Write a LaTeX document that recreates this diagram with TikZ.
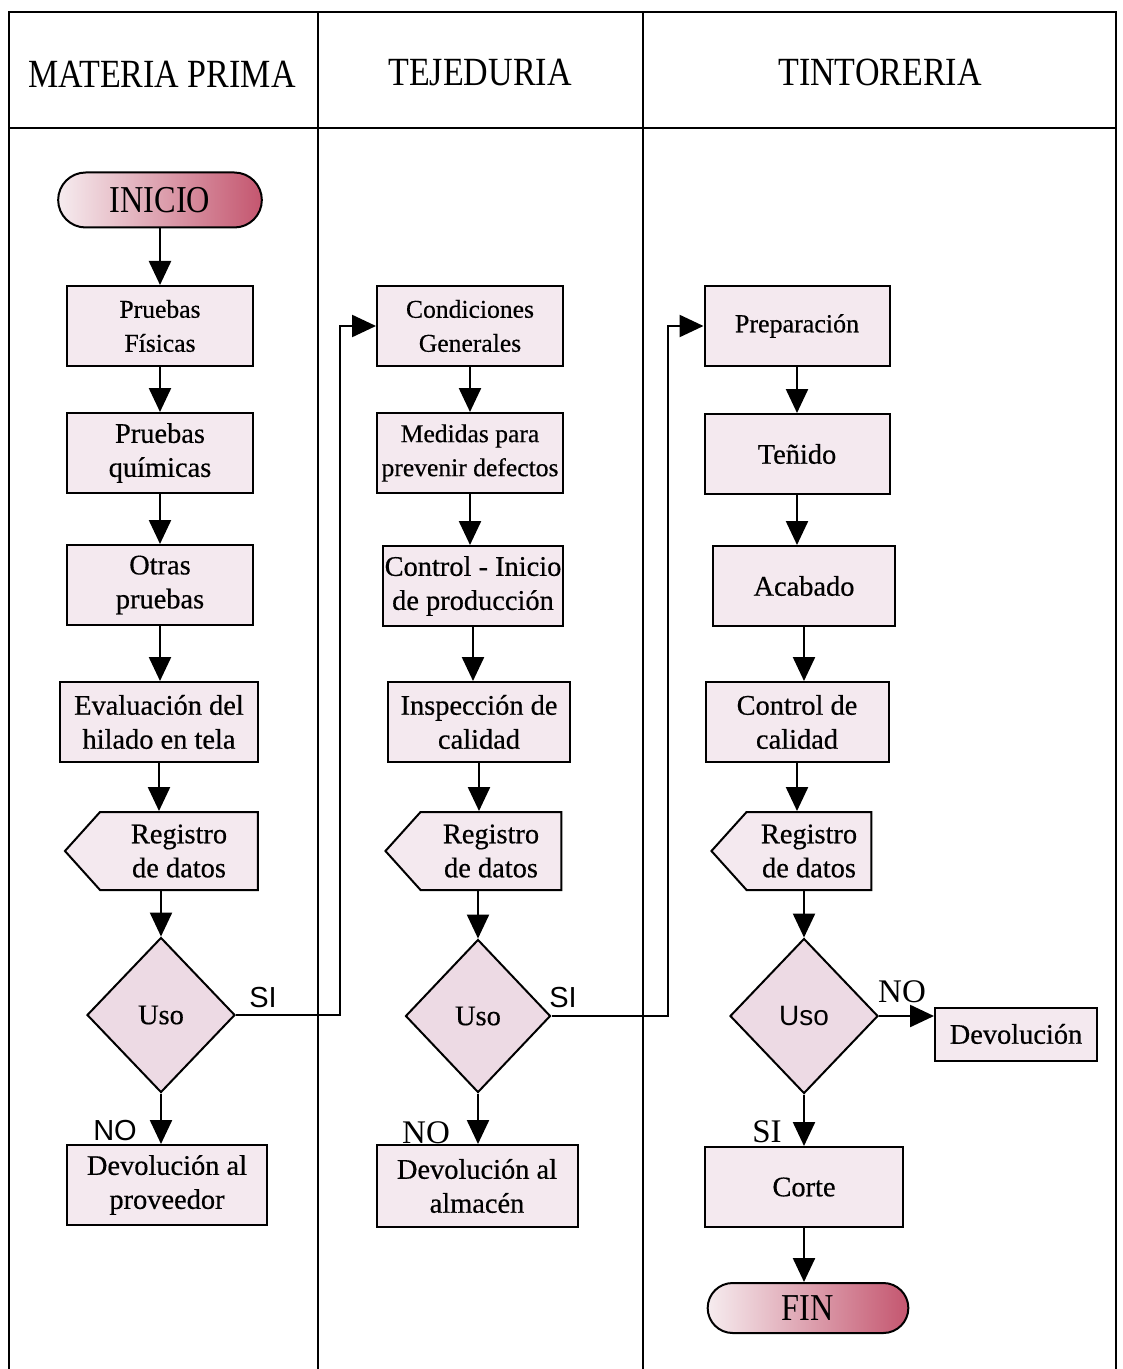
\documentclass[tikz,border=0pt]{standalone}
\usepackage{fontspec}
\setmainfont{Liberation Serif}
\setsansfont{Liberation Sans}
\newfontfamily\headfont[FakeStretch=0.85]{Liberation Serif}
\newfontfamily\boxfont[FakeBold=0.5]{Liberation Serif}
\usetikzlibrary{arrows.meta,positioning,shapes.geometric,shapes.misc,shapes.symbols}
\definecolor{boxfill}{HTML}{F4E9EF}
\definecolor{diafill}{HTML}{EDDAE4}
\definecolor{endleft}{HTML}{F6ECEF}
\definecolor{endright}{HTML}{C4566F}
\newcommand{\BoxFont}[1]{\boxfont\fontsize{#1}{17}\selectfont}

\begin{document}
\begin{tikzpicture}[x=0.5pt,y=-0.5pt,
    line width=1pt,
    lane/.style={line width=1.4pt},
    flow/.style={line width=1.2pt, -{Triangle[length=12pt,width=11pt]}},
    procbox/.style={draw, fill=boxfill, align=center, inner sep=1pt,
      minimum height=40pt, font=\BoxFont{14.2}},
    regbox/.style={draw, fill=boxfill, align=center, shape=signal, signal to=west,
      signal pointer angle=96, minimum height=39pt, font=\BoxFont{14.2}},
    usobox/.style={draw, fill=diafill, shape=diamond, minimum width=74pt,
      minimum height=77.5pt, inner sep=0pt, font=\BoxFont{14.2}},
    endbox/.style={draw, shape=rounded rectangle, left color=endleft, right color=endright,
      font=\headfont\fontsize{19}{20}\selectfont},
    head/.style={font=\headfont\fontsize{20}{22}\selectfont},
    tag/.style={font=\sffamily\fontsize{14.5}{16}\selectfont},
    tagserif/.style={font=\fontsize{16.5}{18}\selectfont}]
  \useasboundingbox (0,0) rectangle (1123,1369);
  % marco y carriles
  \draw[lane] (9,1369) -- (9,12) -- (1116,12) -- (1116,1369);
  \draw[lane] (9,128) -- (1116,128);
  \foreach \x in {318,643}
    \draw[lane] (\x,12) -- (\x,1369);
  \node[head] (h1) at (162,74) {MATERIA PRIMA};
  \node[head] (h2) at (480,72) {TEJEDURIA};
  \node[head] (h3) at (880,72) {TINTORERIA};

  % materia prima
  \node[endbox, minimum width=108.5pt, minimum height=27.5pt] (ini) at (160,200) {INICIO};
  \node[procbox, minimum width=93pt, font=\BoxFont{12.8}] (pf) at (160,326) {Pruebas\\Físicas};
  \node[procbox, minimum width=93pt] (pq) at (160,453) {Pruebas\\químicas};
  \node[procbox, minimum width=93pt] (op) at (160,585) {Otras\\pruebas};
  \node[procbox, minimum width=99pt] (ev) at (159,722) {Evaluación del\\hilado en tela};
  \node[regbox, minimum width=96.5pt] (rg1) at (179,851) {Registro\\de datos};
  \node[usobox] (uso1) at (161,1015) {Uso};
  \node[procbox, minimum width=100pt] (dp) at (167,1185) {Devolución al\\proveedor};

  % tejeduria
  \node[procbox, minimum width=93pt, font=\BoxFont{12.8}] (cg) at (470,326) {Condiciones\\Generales};
  \node[procbox, minimum width=93pt, font=\BoxFont{12.8}] (mp) at (470,453) {Medidas para\\prevenir defectos};
  \node[procbox, minimum width=90pt] (ci) at (473,586) {Control - Inicio\\de producción};
  \node[procbox, minimum width=91pt] (ic) at (479,722) {Inspección de\\calidad};
  \node[regbox, minimum width=88pt] (rg2) at (491,851) {Registro\\de datos};
  \node[usobox, minimum width=72.5pt, minimum height=76.5pt] (uso2) at (478,1016) {Uso};
  \node[procbox, minimum width=100.5pt, minimum height=41pt] (da) at (477,1186) {Devolución al\\almacén};

  % tintoreria
  \node[procbox, minimum width=92.5pt, font=\BoxFont{13}] (pr) at (797,326) {Preparación};
  \node[procbox, minimum width=92.5pt] (te) at (797,454) {Teñido};
  \node[procbox, minimum width=91pt] (ac) at (804,586) {Acabado};
  \node[procbox, minimum width=91.5pt] (cc) at (797,722) {Control de\\calidad};
  \node[regbox, minimum width=80pt] (rg3) at (809,851) {Registro\\de datos};
  \node[usobox, font=\sffamily\fontsize{14}{17}\selectfont] (uso3) at (804,1016) {Uso};
  \node[procbox, minimum width=81pt, minimum height=26.5pt] (dv) at (1016,1034) {Devolución};
  \node[procbox, minimum width=99pt] (co) at (804,1187) {Corte};
  \node[endbox, minimum width=107pt, minimum height=25pt] (fin) at (808,1308) {FIN};

  % flechas verticales
  \foreach \a/\b in {ini/pf,pf/pq,pq/op,op/ev,ev/rg1,
                     cg/mp,mp/ci,ci/ic,ic/rg2,
                     pr/te,te/ac,ac/cc,cc/rg3,co/fin}
    \draw[flow] (\a.south) -- (\a.south |- \b.north);
  \foreach \a/\b in {rg1/uso1,rg2/uso2,rg3/uso3}
    \draw[flow] (\b.north |- \a.south) -- (\b.north);
  \draw[flow] (uso1.south) -- (uso1.south |- dp.north);
  \draw[flow] (uso2.south) -- (uso2.south |- da.north);
  \draw[flow] (uso3.south) -- (uso3.south |- co.north);
  \draw[flow] (uso3.east) -- (uso3.east -| dv.west);

  % conexiones SI entre carriles
  \coordinate (j1) at (340,1015);
  \coordinate (j2) at (668,1016);
  \draw[flow] (uso1.east) -- (j1) |- (cg.west);
  \draw[flow] (uso2.east) -- (j2) |- (pr.west);

  \node[tag] (si1) at (263,998) {SI};
  \node[tag] (no1) at (115,1131) {NO};
  \node[tag] (si2) at (563,998) {SI};
  \node[tagserif] (no2) at (426,1133) {NO};
  \node[tagserif] (no3) at (902,992) {NO};
  \node[tagserif] (si3) at (767,1132) {SI};
\end{tikzpicture}
\end{document}
